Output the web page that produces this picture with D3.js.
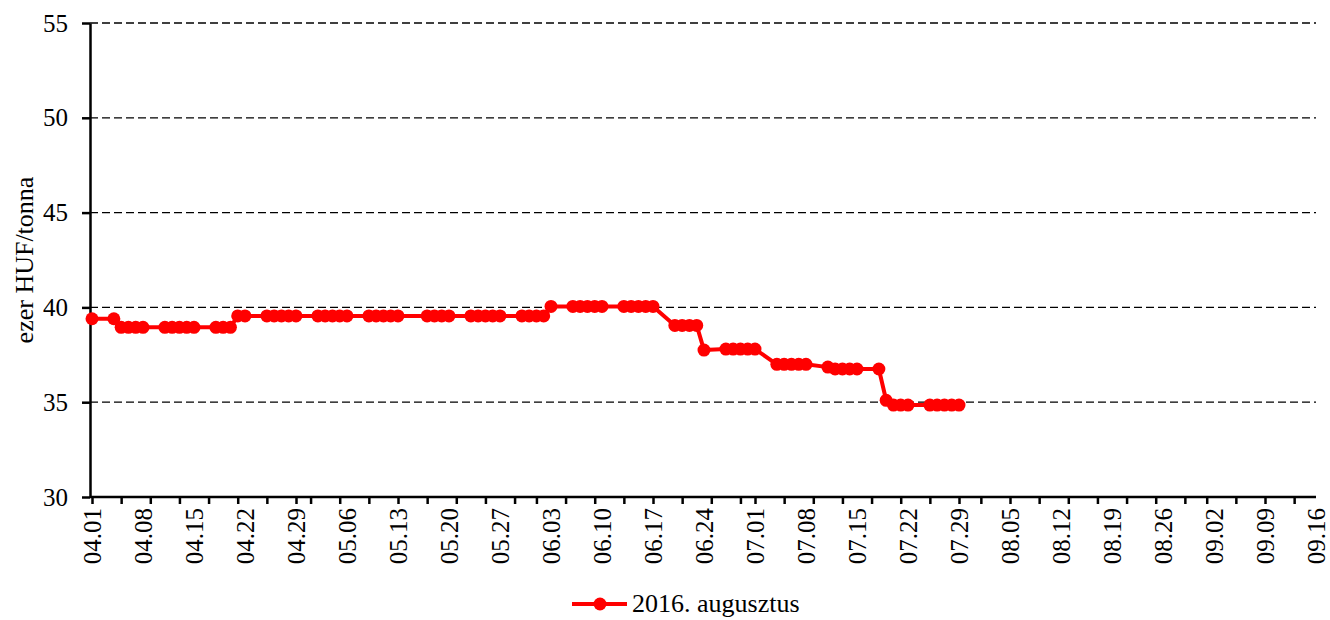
<!DOCTYPE html>
<html>
<head>
<meta charset="utf-8">
<script src="https://cdn.jsdelivr.net/npm/d3@7"></script>
<style>
  body { margin: 0; background: #fff; }
  text { font-family: 'Liberation Serif', 'Times New Roman', serif; fill: #000; }
</style>
</head>
<body>
<div id="chart"></div>
<script>
// trading days (2016) and closing prices, ezer HUF/tonna
const dates = [
  '04.01', '04.04', '04.05', '04.06', '04.07', '04.08',
  '04.11', '04.12', '04.13', '04.14', '04.15',
  '04.18', '04.19', '04.20', '04.21', '04.22',
  '04.25', '04.26', '04.27', '04.28', '04.29',
  '05.02', '05.03', '05.04', '05.05', '05.06',
  '05.09', '05.10', '05.11', '05.12', '05.13',
  '05.17', '05.18', '05.19', '05.20',
  '05.23', '05.24', '05.25', '05.26', '05.27',
  '05.30', '05.31', '06.01', '06.02', '06.03',
  '06.06', '06.07', '06.08', '06.09', '06.10',
  '06.13', '06.14', '06.15', '06.16', '06.17',
  '06.20', '06.21', '06.22', '06.23', '06.24',
  '06.27', '06.28', '06.29', '06.30', '07.01',
  '07.04', '07.05', '07.06', '07.07', '07.08',
  '07.11', '07.12', '07.13', '07.14', '07.15',
  '07.18', '07.19', '07.20', '07.21', '07.22',
  '07.25', '07.26', '07.27', '07.28', '07.29'
]
const prices = [
  39.4, 39.4, 38.95, 38.95, 38.95, 38.95,
  38.95, 38.95, 38.95, 38.95, 38.95,
  38.95, 38.95, 38.95, 39.55, 39.55,
  39.55, 39.55, 39.55, 39.55, 39.55,
  39.55, 39.55, 39.55, 39.55, 39.55,
  39.55, 39.55, 39.55, 39.55, 39.55,
  39.55, 39.55, 39.55, 39.55,
  39.55, 39.55, 39.55, 39.55, 39.55,
  39.55, 39.55, 39.55, 39.55, 40.05,
  40.05, 40.05, 40.05, 40.05, 40.05,
  40.05, 40.05, 40.05, 40.05, 40.05,
  39.05, 39.05, 39.05, 39.05, 37.75,
  37.8, 37.8, 37.8, 37.8, 37.8,
  37.0, 37.0, 37.0, 37.0, 37.0,
  36.85, 36.75, 36.75, 36.75, 36.75,
  36.75, 35.1, 34.85, 34.85, 34.85,
  34.85, 34.85, 34.85, 34.85, 34.85
]
const xTickLabels = [
  '04.01', '04.08', '04.15', '04.22', '04.29', '05.06', '05.13', '05.20', '05.27',
  '06.03', '06.10', '06.17', '06.24', '07.01', '07.08', '07.15', '07.22', '07.29',
  '08.05', '08.12', '08.19', '08.26', '09.02', '09.09', '09.16'
]
const yTicks = [30, 35, 40, 45, 50, 55]
const seriesName = '2016. augusztus'
const yTitle = 'ezer HUF/tonna'

const year = 2016
const parse = s => new Date(year, +s.slice(0, 2) - 1, +s.slice(3, 5))

const width = 1330
const height = 620
const margin = { top: 23, right: 14, bottom: 123, left: 90 }
const red = '#ff0000'

const data = dates.map((d, i) => ({ date: parse(d), value: prices[i] }))
const labelDates = xTickLabels.map(parse)

const x = d3.scaleTime()
  .domain([labelDates[0], labelDates[labelDates.length - 1]])
  .range([margin.left + 2, width - margin.right])

const y = d3.scaleLinear()
  .domain([yTicks[0], yTicks[yTicks.length - 1]])
  .range([height - margin.bottom, margin.top])

const svg = d3.select('#chart').append('svg')
  .attr('width', width)
  .attr('height', height)

// dashed gridlines
svg.append('g')
  .selectAll('line')
  .data(yTicks.slice(1))
  .join('line')
  .attr('x1', margin.left)
  .attr('x2', width - margin.right)
  .attr('y1', d => y(d))
  .attr('y2', d => y(d))
  .attr('stroke', '#000')
  .attr('stroke-width', 1.3)
  .attr('stroke-dasharray', '8,4')

// x axis: small ticks every 4 days, labels weekly
const minorTicks = d3.timeDay.every(4).range(labelDates[0], d3.timeDay.offset(labelDates[labelDates.length - 1], 1))
const xAxis = svg.append('g')
  .attr('transform', `translate(0,${height - margin.bottom})`)
  .call(d3.axisBottom(x).tickValues(minorTicks).tickSize(7).tickSizeOuter(0).tickFormat(''))
xAxis.select('.domain').attr('stroke-width', 2.5).attr('d', `M${margin.left},0H${width - margin.right}`)
xAxis.selectAll('.tick line').attr('stroke-width', 2.5)

svg.append('g')
  .selectAll('text')
  .data(xTickLabels)
  .join('text')
  .attr('transform', d => `translate(${x(parse(d))},${height - margin.bottom + 11}) rotate(-90)`)
  .attr('text-anchor', 'end')
  .attr('dy', '0.35em')
  .style('font-size', '25px')
  .text(d => d)

// y axis
const yAxis = svg.append('g')
  .attr('transform', `translate(${margin.left},0)`)
  .call(d3.axisLeft(y).tickValues(yTicks).tickSize(8).tickPadding(14).tickSizeOuter(0))
yAxis.select('.domain').attr('stroke-width', 2.5)
yAxis.selectAll('.tick line').attr('stroke-width', 2.5)
yAxis.selectAll('.tick text')
  .style('font-size', '25px')
  .style('font-family', "'Liberation Serif', 'Times New Roman', serif")

svg.append('text')
  .attr('transform', `translate(24,${(margin.top + height - margin.bottom) / 2}) rotate(-90)`)
  .attr('text-anchor', 'middle')
  .attr('dy', '0.35em')
  .style('font-size', '26px')
  .text(yTitle)

// series
const line = d3.line()
  .x(d => x(d.date))
  .y(d => y(d.value))

svg.append('path')
  .datum(data)
  .attr('fill', 'none')
  .attr('stroke', red)
  .attr('stroke-width', 4)
  .attr('stroke-linejoin', 'round')
  .attr('d', line)

svg.append('g')
  .selectAll('circle')
  .data(data)
  .join('circle')
  .attr('cx', d => x(d.date))
  .attr('cy', d => y(d.value))
  .attr('r', 6.5)
  .attr('fill', red)

// legend
const legend = svg.append('g').attr('transform', 'translate(572,604)')
legend.append('line')
  .attr('x1', 0).attr('x2', 55)
  .attr('stroke', red)
  .attr('stroke-width', 4)
legend.append('circle')
  .attr('cx', 28).attr('cy', 0).attr('r', 6.5)
  .attr('fill', red)
legend.append('text')
  .attr('x', 60)
  .attr('dy', '0.32em')
  .style('font-size', '26px')
  .text(seriesName)
</script>
</body>
</html>
